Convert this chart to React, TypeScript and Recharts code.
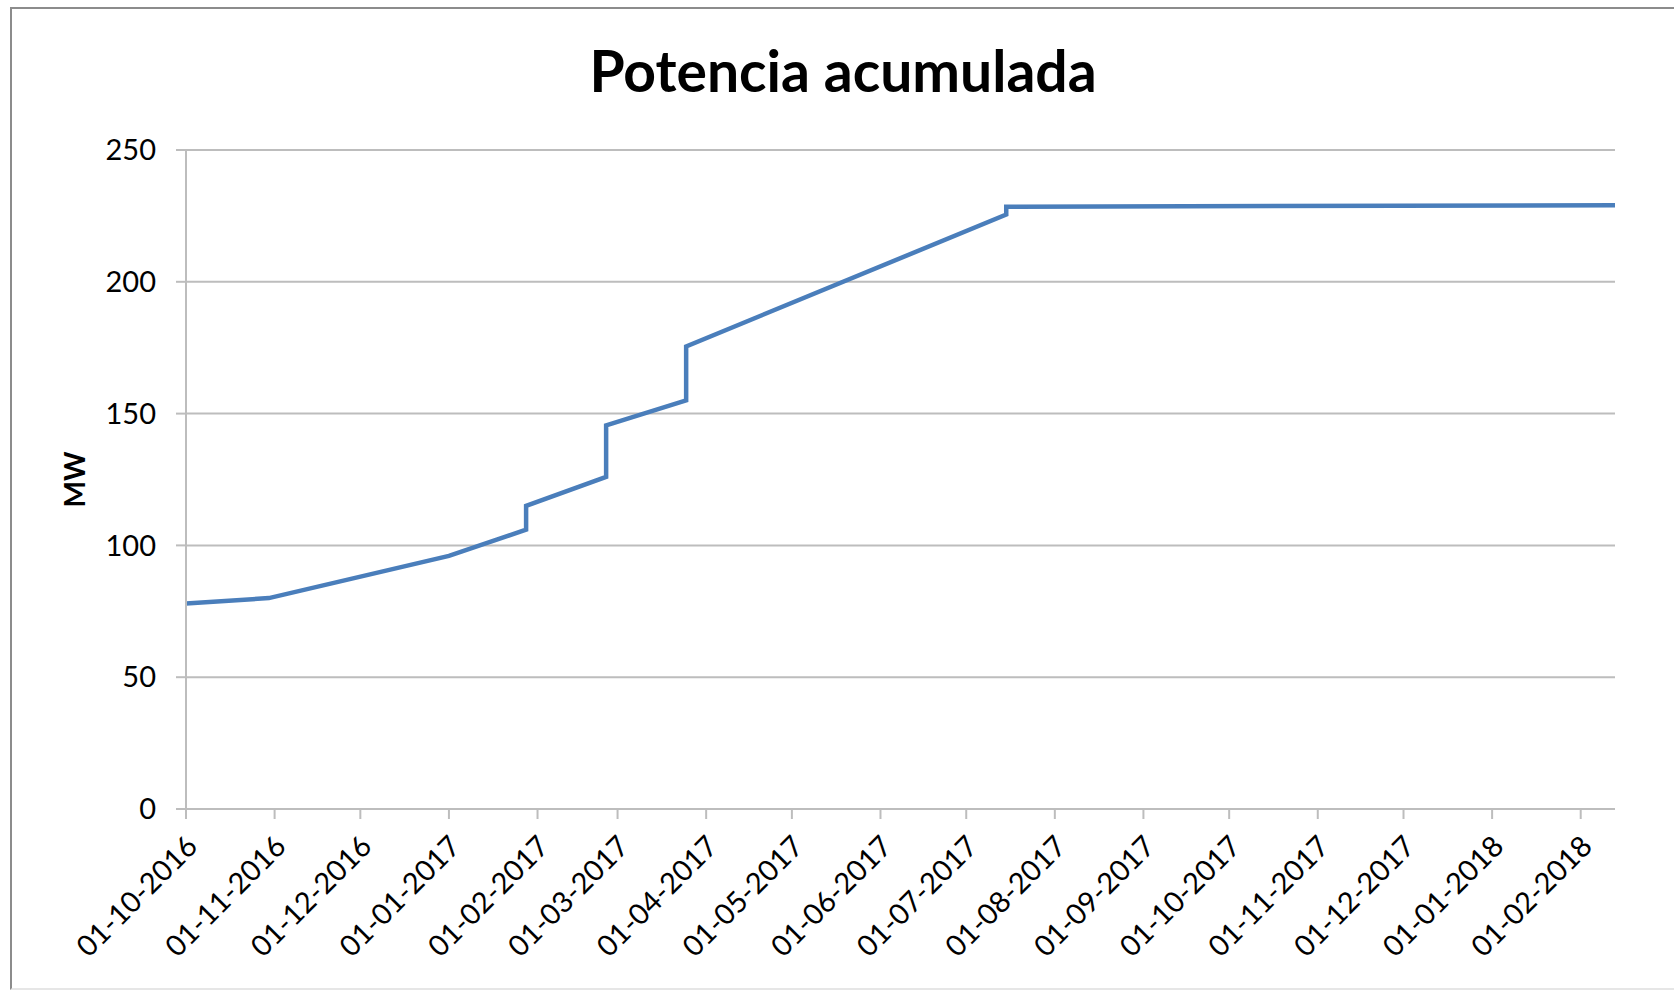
import React from "react";
import { LineChart, Line, XAxis, YAxis, CartesianGrid } from "recharts";

// ---- data ----
const pointDates = [
  "2016-10-01",
  "2016-10-30",
  "2017-01-01",
  "2017-01-28",
  "2017-01-28",
  "2017-02-25",
  "2017-02-25",
  "2017-03-25",
  "2017-03-25",
  "2017-07-15",
  "2017-07-15",
  "2018-02-13",
];
const potenciaMW = [78, 80, 96, 106, 115, 126, 145.5, 155, 175.5, 225.5, 228.5, 229];

const xTickLabels = [
  "01-10-2016", "01-11-2016", "01-12-2016", "01-01-2017", "01-02-2017", "01-03-2017",
  "01-04-2017", "01-05-2017", "01-06-2017", "01-07-2017", "01-08-2017", "01-09-2017",
  "01-10-2017", "01-11-2017", "01-12-2017", "01-01-2018", "01-02-2018",
];
const yTicks = [0, 50, 100, 150, 200, 250];
const axisStart = "2016-10-01";
const axisEnd = "2018-02-13";
const title = "Potencia acumulada";
const yLabel = "MW";

// ---- helpers ----
const isoToMs = (s: string) => Date.UTC(+s.slice(0, 4), +s.slice(5, 7) - 1, +s.slice(8, 10));
const dmyToMs = (s: string) => Date.UTC(+s.slice(6, 10), +s.slice(3, 5) - 1, +s.slice(0, 2));
const pad = (n: number) => (n < 10 ? "0" + n : "" + n);
const fmt = (ms: number) => {
  const d = new Date(ms);
  return `${pad(d.getUTCDate())}-${pad(d.getUTCMonth() + 1)}-${d.getUTCFullYear()}`;
};

const data = pointDates.map((d, i) => ({ t: isoToMs(d), v: potenciaMW[i] }));
const xTicks = xTickLabels.map(dmyToMs);

const FONT = "Lato, 'Open Sans', 'DejaVu Sans', sans-serif";
const GRID = "#BDBDBD";

const XTick = (props: any) => {
  const { x, y, payload } = props;
  return (
    <g transform={`translate(${x},${y})`}>
      <text
        x={6}
        y={20}
        dy="0.35em"
        textAnchor="end"
        transform="rotate(-45, 6, 20)"
        fontFamily={FONT}
        fontSize={29}
        fill="#000"
      >
        {fmt(payload.value)}
      </text>
    </g>
  );
};

const YLabel = (props: any) => {
  const vb = props.viewBox || { x: 0, y: 150, width: 186, height: 660 };
  const cx = vb.x + 75;
  const cy = vb.y + vb.height / 2;
  return (
    <text
      x={cx}
      y={cy}
      dy="0.35em"
      textAnchor="middle"
      transform={`rotate(-90, ${cx}, ${cy})`}
      fontFamily={FONT}
      fontWeight="bold"
      fontSize={28}
      fill="#000"
    >
      {yLabel}
    </text>
  );
};

export default function App() {
  return (
    <div style={{ position: "relative", width: 1674, height: 991, background: "#fff" }}>
      <style>{`html,body{margin:0;padding:0;overflow:hidden;background:#fff}`}</style>
      <div
        style={{
          position: "absolute",
          left: 10,
          top: 7,
          width: 1700,
          height: 983,
          boxSizing: "border-box",
          borderLeft: "2px solid #8C8C8C",
          borderTop: "2px solid #8C8C8C",
          borderBottom: "2px solid #E6E6E6",
        }}
      />
      <div style={{ position: "absolute", left: 0, top: 0 }}>
        <LineChart
          width={1674}
          height={991}
          data={data}
          margin={{ top: 150, right: 59, bottom: 0, left: 0 }}
        >
          <CartesianGrid vertical={false} stroke={GRID} strokeWidth={2} />
          <XAxis
            dataKey="t"
            type="number"
            scale="time"
            domain={[isoToMs(axisStart), isoToMs(axisEnd)]}
            ticks={xTicks}
            interval={0}
            tick={<XTick />}
            tickSize={10}
            axisLine={{ stroke: GRID, strokeWidth: 2 }}
            tickLine={{ stroke: GRID, strokeWidth: 2 }}
            height={182}
            allowDataOverflow
          />
          <YAxis
            type="number"
            domain={[0, 250]}
            ticks={yTicks}
            interval={0}
            width={186}
            tickSize={10}
            tickMargin={20}
            axisLine={{ stroke: GRID, strokeWidth: 2 }}
            tickLine={{ stroke: GRID, strokeWidth: 2 }}
            tick={{ fontFamily: FONT, fontSize: 29, fill: "#000" }}
            label={<YLabel />}
          />
          <Line
            type="linear"
            dataKey="v"
            stroke="#4A7EBB"
            strokeWidth={4.5}
            dot={false}
            activeDot={false}
            isAnimationActive={false}
          />
        </LineChart>
      </div>
      <svg
        width={1674}
        height={991}
        style={{ position: "absolute", left: 0, top: 0, pointerEvents: "none" }}
      >
        <text
          x={843}
          y={92}
          textAnchor="middle"
          fontFamily={FONT}
          fontWeight="bold"
          fontSize={57}
          fill="#000"
        >
          {title}
        </text>
      </svg>
    </div>
  );
}
